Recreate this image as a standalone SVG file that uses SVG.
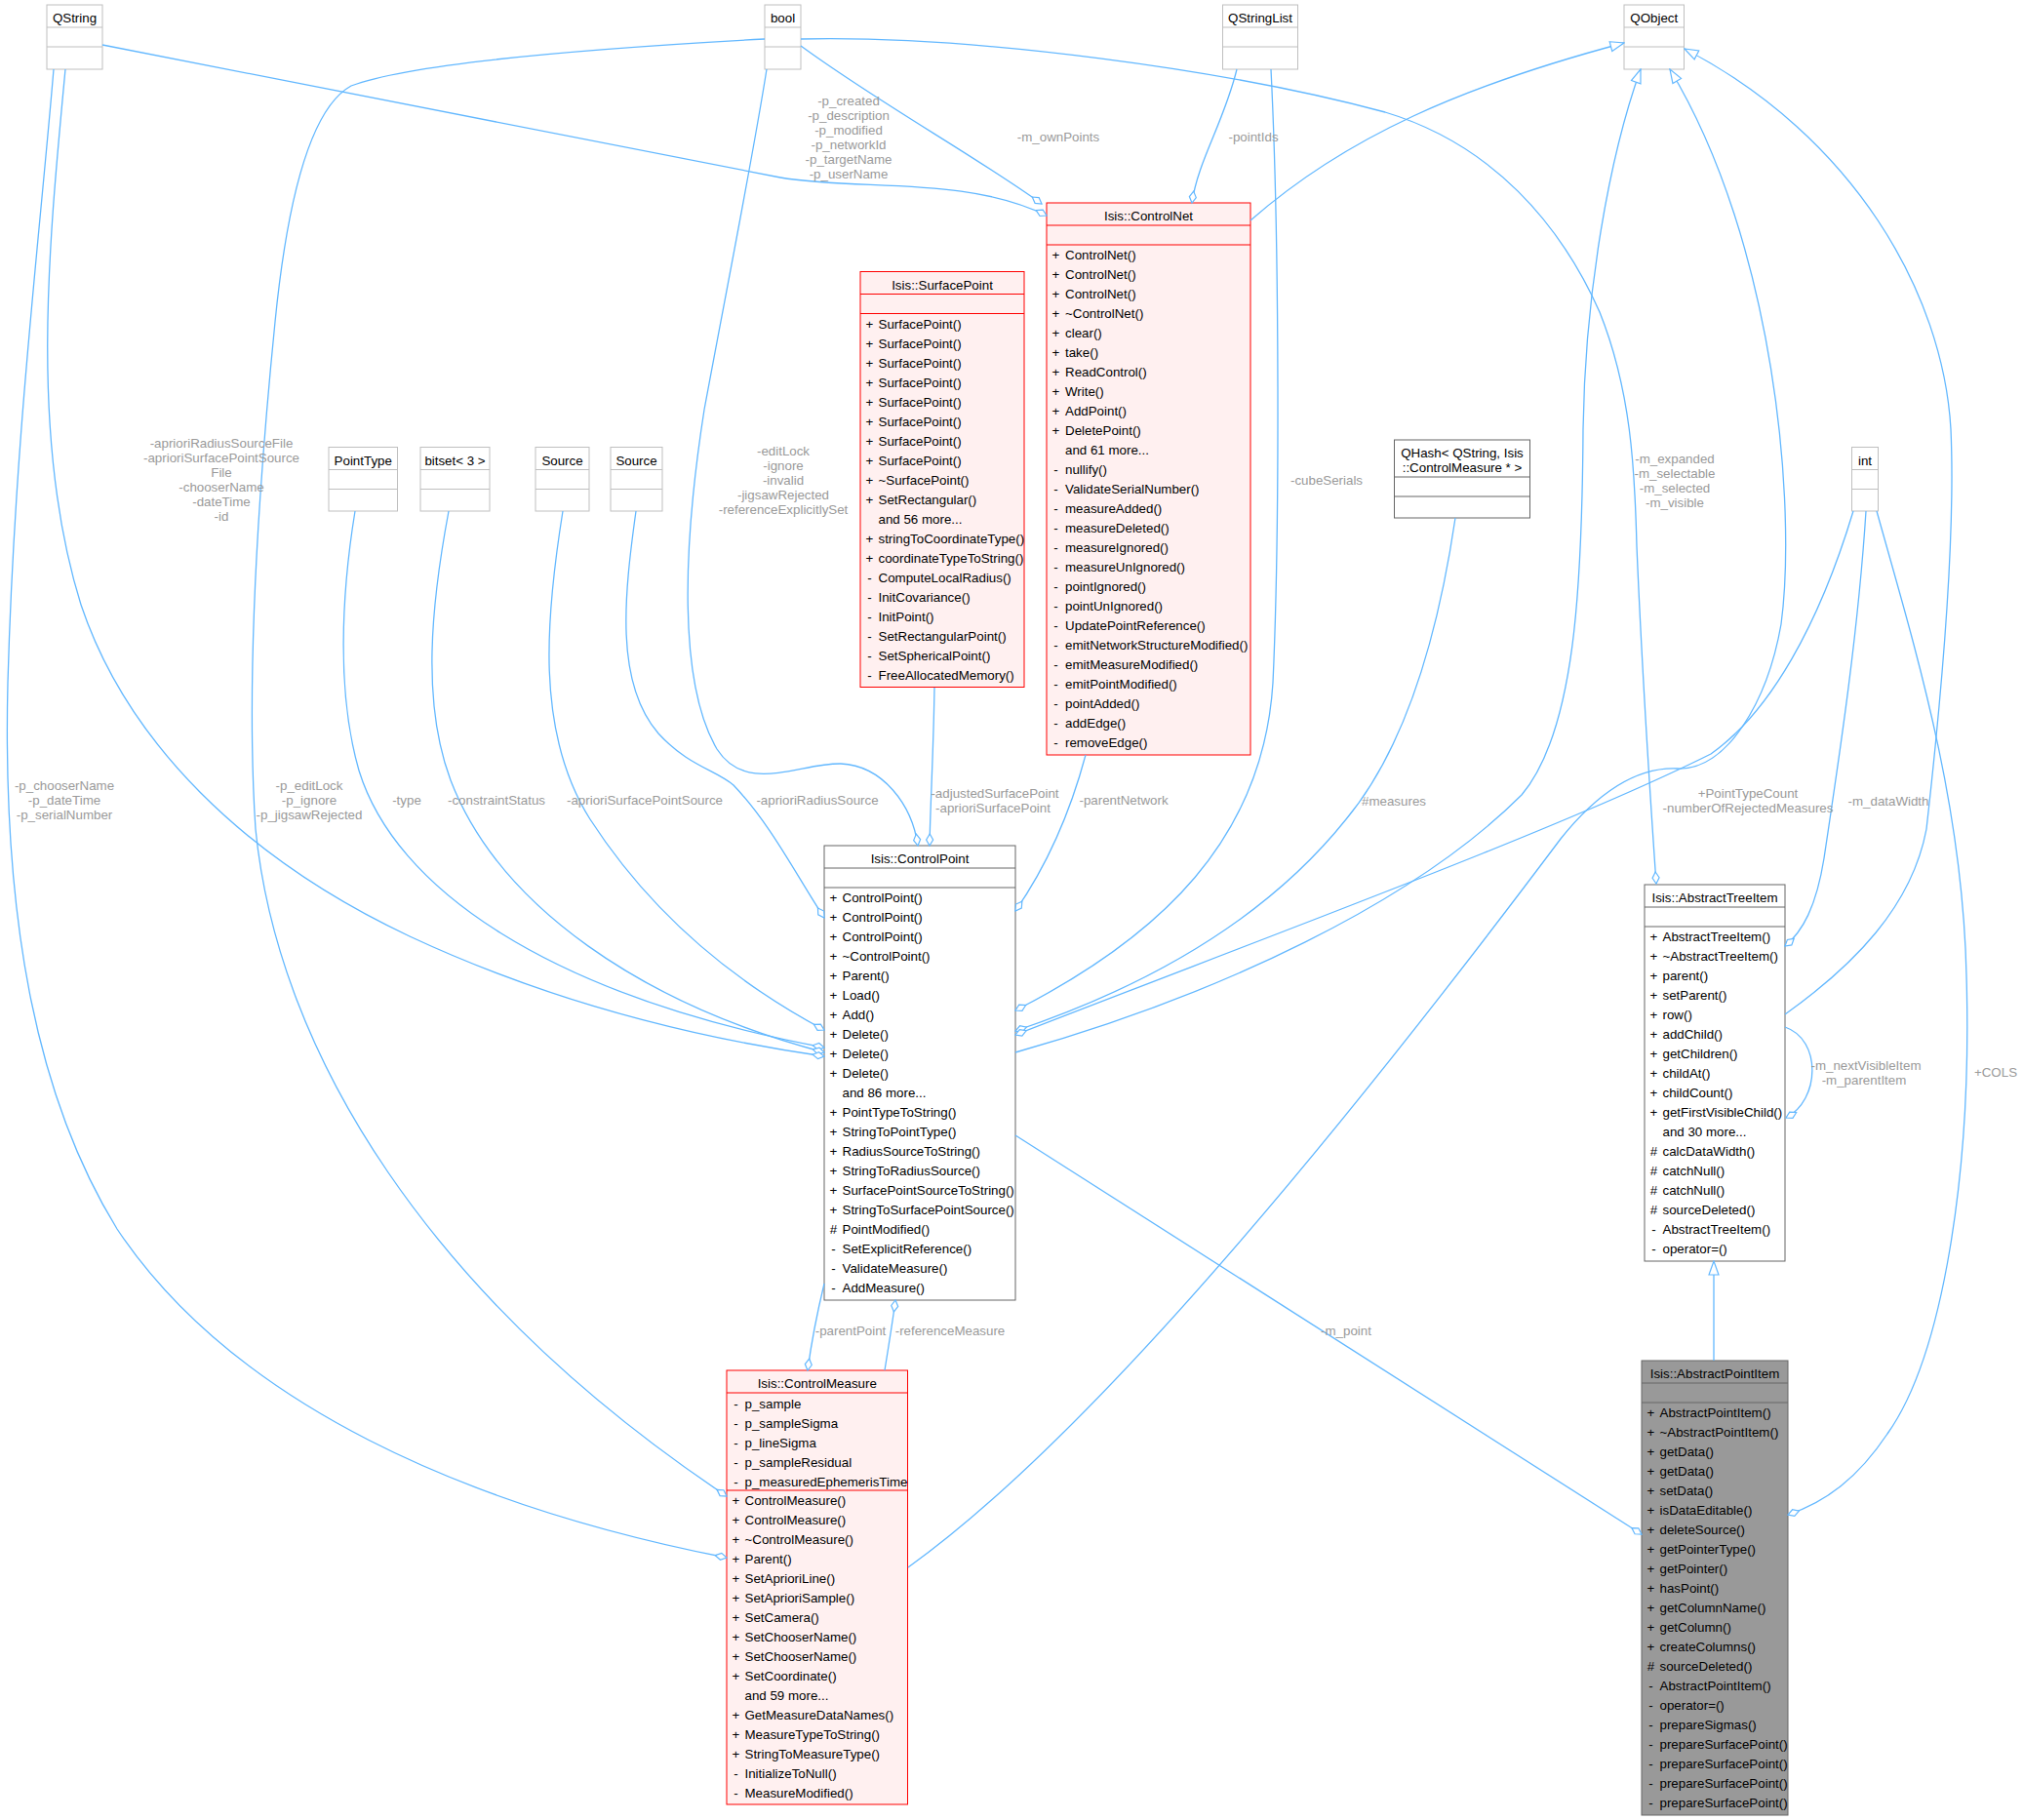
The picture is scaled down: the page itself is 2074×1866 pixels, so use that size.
<svg xmlns="http://www.w3.org/2000/svg" width="2074" height="1866" viewBox="0 0 2074 1866">
<style>
rect{stroke-width:1}
line{stroke-width:1}
.ext rect,.ext line{stroke:#BFBFBF}
.doc rect,.doc line,.cur rect,.cur line{stroke:#666666}
.red rect,.red line{stroke:#FF0000}
.ext rect,.doc rect{fill:#FFFFFF}
.red rect{fill:#FFF0F0}
.cur rect{fill:#999999}
text{font-family:"Liberation Sans",Arial,Helvetica,sans-serif;font-size:13.33px;fill:#000000}
.c{text-anchor:middle}
text.l{fill:#9A9A9A;text-anchor:middle}
.e{fill:none;stroke:#63B8FF;stroke-width:1.3}
.ag{marker-end:url(#dia)}
.in{marker-end:url(#tri)}
</style>
<defs>
<marker id="dia" viewBox="-1 -5 15 10" refX="12" refY="0" markerWidth="15" markerHeight="10" markerUnits="userSpaceOnUse" orient="auto"><path d="M0,0 L6,-3.5 L12,0 L6,3.5 Z" fill="#FFFFFF" stroke="#63B8FF" stroke-width="1.2"/></marker>
<marker id="tri" viewBox="-1 -6 16 12" refX="14" refY="0" markerWidth="16" markerHeight="12" markerUnits="userSpaceOnUse" orient="auto"><path d="M0,-5 L14,0 L0,5 Z" fill="#FFFFFF" stroke="#63B8FF" stroke-width="1.2"/></marker>
</defs>
<rect x="0" y="0" width="2074" height="1866" fill="#FFFFFF"/>

<g id="nodes">
<g id="n_QString" class="ext"><rect x="48" y="5" width="57" height="66"/><line x1="48" y1="28" x2="105" y2="28"/><line x1="48" y1="48" x2="105" y2="48"/><text class="c" x="76.5" y="22.5">QString</text></g>
<g id="n_bool" class="ext"><rect x="784" y="5" width="37" height="66"/><line x1="784" y1="28" x2="821" y2="28"/><line x1="784" y1="48" x2="821" y2="48"/><text class="c" x="802.5" y="22.5">bool</text></g>
<g id="n_QStringList" class="ext"><rect x="1253.5" y="5" width="77" height="66"/><line x1="1253.5" y1="28" x2="1330.5" y2="28"/><line x1="1253.5" y1="48" x2="1330.5" y2="48"/><text class="c" x="1292" y="22.5">QStringList</text></g>
<g id="n_QObject" class="ext"><rect x="1665" y="5" width="61.5" height="66"/><line x1="1665" y1="28" x2="1726.5" y2="28"/><line x1="1665" y1="48" x2="1726.5" y2="48"/><text class="c" x="1695.75" y="22.5">QObject</text></g>
<g id="n_PointType" class="ext"><rect x="337" y="458.5" width="70.5" height="65.5"/><line x1="337" y1="481.5" x2="407.5" y2="481.5"/><line x1="337" y1="501.5" x2="407.5" y2="501.5"/><text class="c" x="372.25" y="476.5">PointType</text></g>
<g id="n_bitset" class="ext"><rect x="431" y="458.5" width="71" height="65.5"/><line x1="431" y1="481.5" x2="502" y2="481.5"/><line x1="431" y1="501.5" x2="502" y2="501.5"/><text class="c" x="466.5" y="476.5">bitset&lt; 3 &gt;</text></g>
<g id="n_Source1" class="ext"><rect x="549" y="458.5" width="55" height="65.5"/><line x1="549" y1="481.5" x2="604" y2="481.5"/><line x1="549" y1="501.5" x2="604" y2="501.5"/><text class="c" x="576.5" y="476.5">Source</text></g>
<g id="n_Source2" class="ext"><rect x="626" y="458.5" width="53" height="65.5"/><line x1="626" y1="481.5" x2="679" y2="481.5"/><line x1="626" y1="501.5" x2="679" y2="501.5"/><text class="c" x="652.5" y="476.5">Source</text></g>
<g id="n_int" class="ext"><rect x="1898.5" y="458.5" width="27" height="65.5"/><line x1="1898.5" y1="481.5" x2="1925.5" y2="481.5"/><line x1="1898.5" y1="501.5" x2="1925.5" y2="501.5"/><text class="c" x="1912" y="476.5">int</text></g>
<g id="n_QHash" class="doc"><rect x="1429.5" y="451" width="139" height="80"/><line x1="1429.5" y1="489" x2="1568.5" y2="489"/><line x1="1429.5" y1="509" x2="1568.5" y2="509"/><text class="c" x="1499" y="469">QHash&lt; QString, Isis</text><text class="c" x="1499" y="484">::ControlMeasure * &gt;</text></g>

<g id="n_ControlNet" class="red"><rect x="1073" y="208" width="209" height="566"/><line x1="1073" y1="231" x2="1282" y2="231"/><line x1="1073" y1="251" x2="1282" y2="251"/>
<text class="c" x="1177.5" y="226">Isis::ControlNet</text>
<text class="c" x="1082.5" y="266">+</text><text x="1092" y="266">ControlNet()</text>
<text class="c" x="1082.5" y="286">+</text><text x="1092" y="286">ControlNet()</text>
<text class="c" x="1082.5" y="306">+</text><text x="1092" y="306">ControlNet()</text>
<text class="c" x="1082.5" y="326">+</text><text x="1092" y="326">~ControlNet()</text>
<text class="c" x="1082.5" y="346">+</text><text x="1092" y="346">clear()</text>
<text class="c" x="1082.5" y="366">+</text><text x="1092" y="366">take()</text>
<text class="c" x="1082.5" y="386">+</text><text x="1092" y="386">ReadControl()</text>
<text class="c" x="1082.5" y="406">+</text><text x="1092" y="406">Write()</text>
<text class="c" x="1082.5" y="426">+</text><text x="1092" y="426">AddPoint()</text>
<text class="c" x="1082.5" y="446">+</text><text x="1092" y="446">DeletePoint()</text>
<text x="1092" y="466">and 61 more...</text>
<text class="c" x="1082.5" y="486">-</text><text x="1092" y="486">nullify()</text>
<text class="c" x="1082.5" y="506">-</text><text x="1092" y="506">ValidateSerialNumber()</text>
<text class="c" x="1082.5" y="526">-</text><text x="1092" y="526">measureAdded()</text>
<text class="c" x="1082.5" y="546">-</text><text x="1092" y="546">measureDeleted()</text>
<text class="c" x="1082.5" y="566">-</text><text x="1092" y="566">measureIgnored()</text>
<text class="c" x="1082.5" y="586">-</text><text x="1092" y="586">measureUnIgnored()</text>
<text class="c" x="1082.5" y="606">-</text><text x="1092" y="606">pointIgnored()</text>
<text class="c" x="1082.5" y="626">-</text><text x="1092" y="626">pointUnIgnored()</text>
<text class="c" x="1082.5" y="646">-</text><text x="1092" y="646">UpdatePointReference()</text>
<text class="c" x="1082.5" y="666">-</text><text x="1092" y="666">emitNetworkStructureModified()</text>
<text class="c" x="1082.5" y="686">-</text><text x="1092" y="686">emitMeasureModified()</text>
<text class="c" x="1082.5" y="706">-</text><text x="1092" y="706">emitPointModified()</text>
<text class="c" x="1082.5" y="726">-</text><text x="1092" y="726">pointAdded()</text>
<text class="c" x="1082.5" y="746">-</text><text x="1092" y="746">addEdge()</text>
<text class="c" x="1082.5" y="766">-</text><text x="1092" y="766">removeEdge()</text>
</g>

<g id="n_SurfacePoint" class="red"><rect x="882" y="278.5" width="168" height="426"/><line x1="882" y1="301.5" x2="1050" y2="301.5"/><line x1="882" y1="321.5" x2="1050" y2="321.5"/>
<text class="c" x="966" y="296.5">Isis::SurfacePoint</text>
<text class="c" x="891.5" y="336.5">+</text><text x="900.5" y="336.5">SurfacePoint()</text>
<text class="c" x="891.5" y="356.5">+</text><text x="900.5" y="356.5">SurfacePoint()</text>
<text class="c" x="891.5" y="376.5">+</text><text x="900.5" y="376.5">SurfacePoint()</text>
<text class="c" x="891.5" y="396.5">+</text><text x="900.5" y="396.5">SurfacePoint()</text>
<text class="c" x="891.5" y="416.5">+</text><text x="900.5" y="416.5">SurfacePoint()</text>
<text class="c" x="891.5" y="436.5">+</text><text x="900.5" y="436.5">SurfacePoint()</text>
<text class="c" x="891.5" y="456.5">+</text><text x="900.5" y="456.5">SurfacePoint()</text>
<text class="c" x="891.5" y="476.5">+</text><text x="900.5" y="476.5">SurfacePoint()</text>
<text class="c" x="891.5" y="496.5">+</text><text x="900.5" y="496.5">~SurfacePoint()</text>
<text class="c" x="891.5" y="516.5">+</text><text x="900.5" y="516.5">SetRectangular()</text>
<text x="900.5" y="536.5">and 56 more...</text>
<text class="c" x="891.5" y="556.5">+</text><text x="900.5" y="556.5">stringToCoordinateType()</text>
<text class="c" x="891.5" y="576.5">+</text><text x="900.5" y="576.5">coordinateTypeToString()</text>
<text class="c" x="891.5" y="596.5">-</text><text x="900.5" y="596.5">ComputeLocalRadius()</text>
<text class="c" x="891.5" y="616.5">-</text><text x="900.5" y="616.5">InitCovariance()</text>
<text class="c" x="891.5" y="636.5">-</text><text x="900.5" y="636.5">InitPoint()</text>
<text class="c" x="891.5" y="656.5">-</text><text x="900.5" y="656.5">SetRectangularPoint()</text>
<text class="c" x="891.5" y="676.5">-</text><text x="900.5" y="676.5">SetSphericalPoint()</text>
<text class="c" x="891.5" y="696.5">-</text><text x="900.5" y="696.5">FreeAllocatedMemory()</text>
</g>

<g id="n_ControlPoint" class="doc"><rect x="845" y="867" width="196" height="466"/><line x1="845" y1="890" x2="1041" y2="890"/><line x1="845" y1="910" x2="1041" y2="910"/>
<text class="c" x="943" y="885">Isis::ControlPoint</text>
<text class="c" x="854.5" y="925">+</text><text x="863.5" y="925">ControlPoint()</text>
<text class="c" x="854.5" y="945">+</text><text x="863.5" y="945">ControlPoint()</text>
<text class="c" x="854.5" y="965">+</text><text x="863.5" y="965">ControlPoint()</text>
<text class="c" x="854.5" y="985">+</text><text x="863.5" y="985">~ControlPoint()</text>
<text class="c" x="854.5" y="1005">+</text><text x="863.5" y="1005">Parent()</text>
<text class="c" x="854.5" y="1025">+</text><text x="863.5" y="1025">Load()</text>
<text class="c" x="854.5" y="1045">+</text><text x="863.5" y="1045">Add()</text>
<text class="c" x="854.5" y="1065">+</text><text x="863.5" y="1065">Delete()</text>
<text class="c" x="854.5" y="1085">+</text><text x="863.5" y="1085">Delete()</text>
<text class="c" x="854.5" y="1105">+</text><text x="863.5" y="1105">Delete()</text>
<text x="863.5" y="1125">and 86 more...</text>
<text class="c" x="854.5" y="1145">+</text><text x="863.5" y="1145">PointTypeToString()</text>
<text class="c" x="854.5" y="1165">+</text><text x="863.5" y="1165">StringToPointType()</text>
<text class="c" x="854.5" y="1185">+</text><text x="863.5" y="1185">RadiusSourceToString()</text>
<text class="c" x="854.5" y="1205">+</text><text x="863.5" y="1205">StringToRadiusSource()</text>
<text class="c" x="854.5" y="1225">+</text><text x="863.5" y="1225">SurfacePointSourceToString()</text>
<text class="c" x="854.5" y="1245">+</text><text x="863.5" y="1245">StringToSurfacePointSource()</text>
<text class="c" x="854.5" y="1265">#</text><text x="863.5" y="1265">PointModified()</text>
<text class="c" x="854.5" y="1285">-</text><text x="863.5" y="1285">SetExplicitReference()</text>
<text class="c" x="854.5" y="1305">-</text><text x="863.5" y="1305">ValidateMeasure()</text>
<text class="c" x="854.5" y="1325">-</text><text x="863.5" y="1325">AddMeasure()</text>
</g>

<g id="n_ControlMeasure" class="red"><rect x="745" y="1405" width="185.5" height="445"/><line x1="745" y1="1428" x2="930.5" y2="1428"/><line x1="745" y1="1528" x2="930.5" y2="1528"/>
<text class="c" x="837.75" y="1423">Isis::ControlMeasure</text>
<text class="c" x="754.5" y="1443.5">-</text><text x="763.5" y="1443.5">p_sample</text>
<text class="c" x="754.5" y="1463.5">-</text><text x="763.5" y="1463.5">p_sampleSigma</text>
<text class="c" x="754.5" y="1483.5">-</text><text x="763.5" y="1483.5">p_lineSigma</text>
<text class="c" x="754.5" y="1503.5">-</text><text x="763.5" y="1503.5">p_sampleResidual</text>
<text class="c" x="754.5" y="1523.5">-</text><text x="763.5" y="1523.5">p_measuredEphemerisTime</text>
<text class="c" x="754.5" y="1543">+</text><text x="763.5" y="1543">ControlMeasure()</text>
<text class="c" x="754.5" y="1563">+</text><text x="763.5" y="1563">ControlMeasure()</text>
<text class="c" x="754.5" y="1583">+</text><text x="763.5" y="1583">~ControlMeasure()</text>
<text class="c" x="754.5" y="1603">+</text><text x="763.5" y="1603">Parent()</text>
<text class="c" x="754.5" y="1623">+</text><text x="763.5" y="1623">SetAprioriLine()</text>
<text class="c" x="754.5" y="1643">+</text><text x="763.5" y="1643">SetAprioriSample()</text>
<text class="c" x="754.5" y="1663">+</text><text x="763.5" y="1663">SetCamera()</text>
<text class="c" x="754.5" y="1683">+</text><text x="763.5" y="1683">SetChooserName()</text>
<text class="c" x="754.5" y="1703">+</text><text x="763.5" y="1703">SetChooserName()</text>
<text class="c" x="754.5" y="1723">+</text><text x="763.5" y="1723">SetCoordinate()</text>
<text x="763.5" y="1743">and 59 more...</text>
<text class="c" x="754.5" y="1763">+</text><text x="763.5" y="1763">GetMeasureDataNames()</text>
<text class="c" x="754.5" y="1783">+</text><text x="763.5" y="1783">MeasureTypeToString()</text>
<text class="c" x="754.5" y="1803">+</text><text x="763.5" y="1803">StringToMeasureType()</text>
<text class="c" x="754.5" y="1823">-</text><text x="763.5" y="1823">InitializeToNull()</text>
<text class="c" x="754.5" y="1843">-</text><text x="763.5" y="1843">MeasureModified()</text>
</g>

<g id="n_AbstractTreeItem" class="doc"><rect x="1686" y="907" width="144" height="386"/><line x1="1686" y1="930" x2="1830" y2="930"/><line x1="1686" y1="950" x2="1830" y2="950"/>
<text class="c" x="1758" y="925">Isis::AbstractTreeItem</text>
<text class="c" x="1695.5" y="965">+</text><text x="1704.5" y="965">AbstractTreeItem()</text>
<text class="c" x="1695.5" y="985">+</text><text x="1704.5" y="985">~AbstractTreeItem()</text>
<text class="c" x="1695.5" y="1005">+</text><text x="1704.5" y="1005">parent()</text>
<text class="c" x="1695.5" y="1025">+</text><text x="1704.5" y="1025">setParent()</text>
<text class="c" x="1695.5" y="1045">+</text><text x="1704.5" y="1045">row()</text>
<text class="c" x="1695.5" y="1065">+</text><text x="1704.5" y="1065">addChild()</text>
<text class="c" x="1695.5" y="1085">+</text><text x="1704.5" y="1085">getChildren()</text>
<text class="c" x="1695.5" y="1105">+</text><text x="1704.5" y="1105">childAt()</text>
<text class="c" x="1695.5" y="1125">+</text><text x="1704.5" y="1125">childCount()</text>
<text class="c" x="1695.5" y="1145">+</text><text x="1704.5" y="1145">getFirstVisibleChild()</text>
<text x="1704.5" y="1165">and 30 more...</text>
<text class="c" x="1695.5" y="1185">#</text><text x="1704.5" y="1185">calcDataWidth()</text>
<text class="c" x="1695.5" y="1205">#</text><text x="1704.5" y="1205">catchNull()</text>
<text class="c" x="1695.5" y="1225">#</text><text x="1704.5" y="1225">catchNull()</text>
<text class="c" x="1695.5" y="1245">#</text><text x="1704.5" y="1245">sourceDeleted()</text>
<text class="c" x="1695.5" y="1265">-</text><text x="1704.5" y="1265">AbstractTreeItem()</text>
<text class="c" x="1695.5" y="1285">-</text><text x="1704.5" y="1285">operator=()</text>
</g>

<g id="n_AbstractPointItem" class="cur"><rect x="1683" y="1395" width="150" height="466"/><line x1="1683" y1="1418" x2="1833" y2="1418"/><line x1="1683" y1="1438" x2="1833" y2="1438"/>
<text class="c" x="1758" y="1413">Isis::AbstractPointItem</text>
<text class="c" x="1692.5" y="1453">+</text><text x="1701.5" y="1453">AbstractPointItem()</text>
<text class="c" x="1692.5" y="1473">+</text><text x="1701.5" y="1473">~AbstractPointItem()</text>
<text class="c" x="1692.5" y="1493">+</text><text x="1701.5" y="1493">getData()</text>
<text class="c" x="1692.5" y="1513">+</text><text x="1701.5" y="1513">getData()</text>
<text class="c" x="1692.5" y="1533">+</text><text x="1701.5" y="1533">setData()</text>
<text class="c" x="1692.5" y="1553">+</text><text x="1701.5" y="1553">isDataEditable()</text>
<text class="c" x="1692.5" y="1573">+</text><text x="1701.5" y="1573">deleteSource()</text>
<text class="c" x="1692.5" y="1593">+</text><text x="1701.5" y="1593">getPointerType()</text>
<text class="c" x="1692.5" y="1613">+</text><text x="1701.5" y="1613">getPointer()</text>
<text class="c" x="1692.5" y="1633">+</text><text x="1701.5" y="1633">hasPoint()</text>
<text class="c" x="1692.5" y="1653">+</text><text x="1701.5" y="1653">getColumnName()</text>
<text class="c" x="1692.5" y="1673">+</text><text x="1701.5" y="1673">getColumn()</text>
<text class="c" x="1692.5" y="1693">+</text><text x="1701.5" y="1693">createColumns()</text>
<text class="c" x="1692.5" y="1713">#</text><text x="1701.5" y="1713">sourceDeleted()</text>
<text class="c" x="1692.5" y="1733">-</text><text x="1701.5" y="1733">AbstractPointItem()</text>
<text class="c" x="1692.5" y="1753">-</text><text x="1701.5" y="1753">operator=()</text>
<text class="c" x="1692.5" y="1773">-</text><text x="1701.5" y="1773">prepareSigmas()</text>
<text class="c" x="1692.5" y="1793">-</text><text x="1701.5" y="1793">prepareSurfacePoint()</text>
<text class="c" x="1692.5" y="1813">-</text><text x="1701.5" y="1813">prepareSurfacePoint()</text>
<text class="c" x="1692.5" y="1833">-</text><text x="1701.5" y="1833">prepareSurfacePoint()</text>
<text class="c" x="1692.5" y="1853">-</text><text x="1701.5" y="1853">prepareSurfacePoint()</text>
</g>
</g>

<g id="connectors">
<path class="e ag" d="M105,46 C400,105 680,160 800,182 C880,196 990,180 1073,221"/>
<path class="e ag" d="M821,47 C900,105 1000,160 1068,209"/>
<path class="e ag" d="M1268,71 C1255,125 1228,165 1222,208"/>
<path class="e in" d="M1282,226 C1380,140 1500,88 1665,44"/>
<path class="e ag" d="M1303,71 C1312,250 1312,550 1305,700 C1295,860 1190,960 1041,1036"/>
<path class="e ag" d="M821,40 C1000,36 1260,72 1420,115 C1530,148 1600,230 1640,320 C1672,400 1676,480 1678,560 C1684,700 1692,820 1698,906"/>
<path class="e ag" d="M786,71 C772,160 748,280 722,420 C700,560 695,700 735,768 C765,815 820,782 862,783 C905,785 935,825 941,867"/>
<path class="e ag" d="M958,705 C957,770 954,820 953,867"/>
<path class="e ag" d="M652,524 C640,610 630,700 675,752 C705,785 735,790 752,805 C790,845 815,895 845,941"/>
<path class="e ag" d="M577,524 C560,630 548,750 605,840 C660,925 740,1000 845,1056"/>
<path class="e ag" d="M364,524 C350,610 345,710 368,790 C405,910 560,1020 845,1074"/>
<path class="e ag" d="M460,524 C442,620 432,720 462,800 C512,930 660,1030 845,1079"/>
<path class="e ag" d="M67,71 C50,250 30,450 83,620 C130,760 250,880 420,960 C570,1030 720,1065 845,1083"/>
<path class="e ag" d="M55,71 C40,250 15,450 8,700 C2,950 40,1130 120,1260 C240,1440 480,1545 745,1597"/>
<path class="e ag" d="M784,40 C600,50 420,65 360,88 C320,110 295,200 282,330 C265,500 252,700 262,850 C285,1080 440,1330 745,1534"/>
<path class="e ag" d="M1113,774 C1098,830 1075,885 1041,934"/>
<path class="e ag" d="M1492,531 C1470,680 1430,780 1380,840 C1300,940 1180,1010 1041,1057"/>
<path class="e ag" d="M1900,524 C1865,640 1815,730 1754,773 C1600,850 1300,960 1041,1061"/>
<path class="e in" d="M1041,1079 C1250,1020 1450,925 1560,815 C1615,750 1622,600 1623,440 C1625,300 1650,160 1682,71"/>
<path class="e in" d="M931,1607 C1150,1450 1450,1060 1600,860 C1640,810 1680,786 1720,788 C1770,790 1812,720 1826,640 C1842,520 1820,250 1712,71"/>
<path class="e in" d="M1830,1040 C1900,990 1960,930 1975,850 C1992,700 2005,550 2000,440 C1992,300 1900,140 1727,50"/>
<path class="e ag" d="M1913,524 C1905,650 1885,780 1870,880 C1862,930 1848,955 1830,970"/>
<path class="e ag" d="M1924,524 C1962,660 2012,820 2016,1000 C2022,1200 1992,1390 1935,1470 C1905,1515 1872,1540 1833,1553"/>
<path class="e ag" d="M1830,1053 C1868,1066 1866,1128 1831,1146"/>
<path class="e in" d="M1757,1395 L1757,1293"/>
<path class="e ag" d="M1041,1164 L1683,1573"/>
<path class="e ag" d="M845,1316 C838,1345 832,1375 828,1405"/>
<path class="e ag" d="M907,1405 C911,1380 915,1356 918,1333"/>

<text class="l" x="870" y="107.5">-p_created</text>
<text class="l" x="870" y="122.5">-p_description</text>
<text class="l" x="870" y="137.5">-p_modified</text>
<text class="l" x="870" y="152.5">-p_networkId</text>
<text class="l" x="870" y="167.5">-p_targetName</text>
<text class="l" x="870" y="182.5">-p_userName</text>
<text class="l" x="1085" y="144.5">-m_ownPoints</text>
<text class="l" x="1285" y="144.5">-pointIds</text>
<text class="l" x="1360" y="496.5">-cubeSerials</text>
<text class="l" x="1717" y="474.5">-m_expanded</text>
<text class="l" x="1717" y="489.5">-m_selectable</text>
<text class="l" x="1717" y="504.5">-m_selected</text>
<text class="l" x="1717" y="519.5">-m_visible</text>
<text class="l" x="1429" y="825.5">#measures</text>
<text class="l" x="1792" y="817.5">+PointTypeCount</text>
<text class="l" x="1792" y="832.5">-numberOfRejectedMeasures</text>
<text class="l" x="1936" y="825.5">-m_dataWidth</text>
<text class="l" x="2046" y="1103.5">+COLS</text>
<text class="l" x="1913" y="1096.5">-m_nextVisibleItem</text>
<text class="l" x="1911" y="1111.5">-m_parentItem</text>
<text class="l" x="1380" y="1368.5">-m_point</text>
<text class="l" x="872" y="1368.5">-parentPoint</text>
<text class="l" x="974" y="1368.5">-referenceMeasure</text>
<text class="l" x="1020" y="817.5">-adjustedSurfacePoint</text>
<text class="l" x="1018" y="832.5">-aprioriSurfacePoint</text>
<text class="l" x="1152" y="824.5">-parentNetwork</text>
<text class="l" x="838" y="824.5">-aprioriRadiusSource</text>
<text class="l" x="661" y="824.5">-aprioriSurfacePointSource</text>
<text class="l" x="509" y="824.5">-constraintStatus</text>
<text class="l" x="417" y="824.5">-type</text>
<text class="l" x="803" y="467">-editLock</text>
<text class="l" x="803" y="481.5">-ignore</text>
<text class="l" x="803" y="496.5">-invalid</text>
<text class="l" x="803" y="511.5">-jigsawRejected</text>
<text class="l" x="803" y="526.5">-referenceExplicitlySet</text>
<text class="l" x="227" y="459">-aprioriRadiusSourceFile</text>
<text class="l" x="227" y="474">-aprioriSurfacePointSource</text>
<text class="l" x="227" y="489">File</text>
<text class="l" x="227" y="504">-chooserName</text>
<text class="l" x="227" y="519">-dateTime</text>
<text class="l" x="227" y="534">-id</text>
<text class="l" x="66" y="810">-p_chooserName</text>
<text class="l" x="66" y="825">-p_dateTime</text>
<text class="l" x="66" y="840">-p_serialNumber</text>
<text class="l" x="317" y="810">-p_editLock</text>
<text class="l" x="317" y="825">-p_ignore</text>
<text class="l" x="317" y="840">-p_jigsawRejected</text>
</g>
</svg>
